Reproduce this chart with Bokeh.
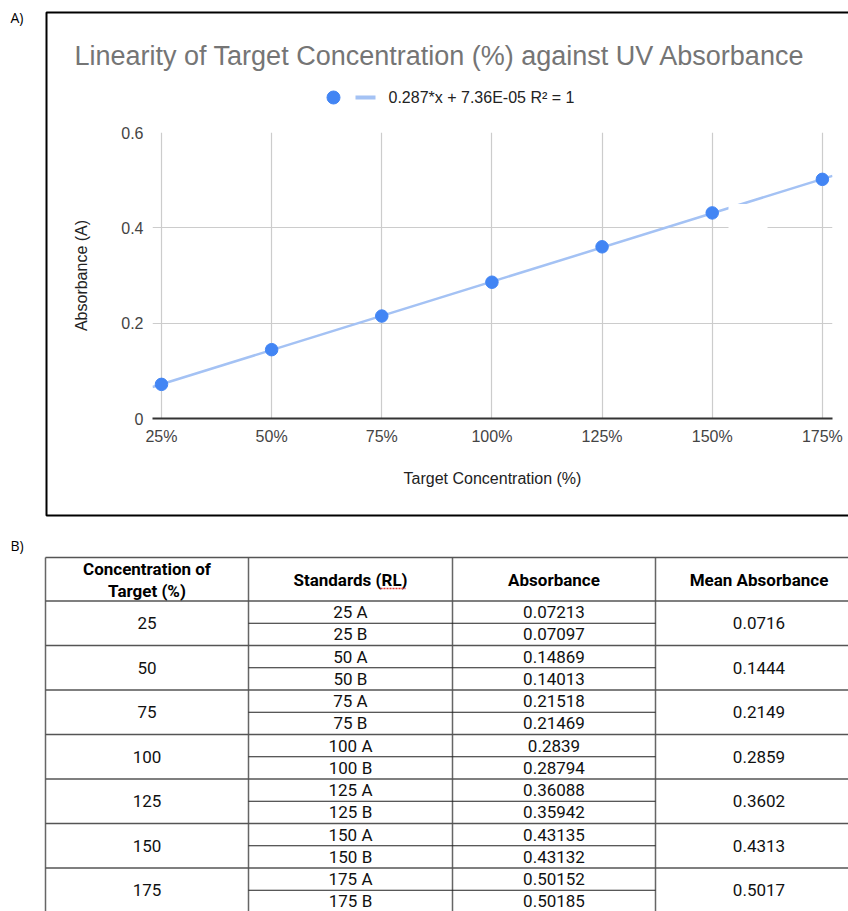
from bokeh.plotting import figure
from bokeh.models import (Range1d, FixedTicker, PrintfTickFormatter, NumeralTickFormatter,
                          BoxAnnotation, ColumnDataSource, GridBox)
from bokeh.embed import file_html
from bokeh.resources import INLINE
from bokeh.core.properties import value

# ---------------- data ----------------
concentration = [25, 50, 75, 100, 125, 150, 175]
y_ticks = [0, 0.2, 0.4, 0.6]
mean_absorbance = [0.0716, 0.1444, 0.2149, 0.2859, 0.3602, 0.4313, 0.5017]
standards = ["25 A", "25 B", "50 A", "50 B", "75 A", "75 B", "100 A", "100 B",
             "125 A", "125 B", "150 A", "150 B", "175 A", "175 B"]
absorbance = [0.07213, 0.07097, 0.14869, 0.14013, 0.21518, 0.21469, 0.2839, 0.28794,
              0.36088, 0.35942, 0.43135, 0.43132, 0.50152, 0.50185]
trend_slope = 0.287
trend_intercept = 7.36e-05
trend_label = "0.287*x + 7.36E-05 R\u00b2 = 1"
title_text = "Linearity of Target Concentration (%) against UV Absorbance"
x_title = "Target Concentration (%)"
y_title = "Absorbance (A)"
header_col1 = ["Concentration of", "Target (%)"]
header_others = ["Standards (RL)", "Absorbance", "Mean Absorbance"]
panel_labels = ["A)", "B)"]

CHART_FONT = "Liberation Sans"
TABLE_FONT = "Roboto"
PAGE_W, PAGE_H = 848, 911

# ---------------- background page: panel frames, titles, legend, table ----------------
bg = figure(width=PAGE_W, height=PAGE_H, output_backend="svg", toolbar_location=None,
            x_range=Range1d(0, PAGE_W), y_range=Range1d(PAGE_H, 0),
            x_axis_location=None, y_axis_location=None, min_border=0, frame_align=False)
bg.outline_line_color = None
bg.grid.visible = False
bg.background_fill_color = "white"
bg.border_fill_color = "white"

# panel labels
bg.text(x=[10, 10], y=[17, 545], text=panel_labels, text_font=value("Open Sans"),
        text_font_size="14px", text_color="#000000", text_align="left", text_baseline="middle")
# chart box
bg.quad(left=[46], right=[880], top=[12], bottom=[515], fill_alpha=0,
        line_color="black", line_width=2)
# chart title
bg.text(x=[74], y=[55], text=[title_text], text_font=value(CHART_FONT), text_font_size="27px",
        text_color="#757575", text_align="left", text_baseline="middle")
# legend
bg.scatter(x=[333], y=[97], size=13, fill_color="#4285f4", line_color="#4285f4")
bg.line(x=[355, 375], y=[97, 97], line_color="#a4c2f4", line_width=4)
bg.text(x=[388], y=[97], text=[trend_label], text_font=value(CHART_FONT), text_font_size="16px",
        text_color="#222222", text_align="left", text_baseline="middle")

# table
cols = [45, 248, 452, 655, 862]
tbl_top = 557
head_bot = 600.5
grp_h = 44.5
n_grp = len(concentration)
bottom_end = head_bot + n_grp * grp_h + 10

bg.segment(x0=cols, y0=[tbl_top] * len(cols), x1=cols, y1=[bottom_end] * len(cols),
           line_color="#666666", line_width=1.5)
gy = [tbl_top] + [head_bot + k * grp_h for k in range(n_grp + 1)]
bg.segment(x0=[cols[0]] * len(gy), y0=gy, x1=[cols[-1]] * len(gy), y1=gy,
           line_color="#555555", line_width=1.6)
sy = [head_bot + k * grp_h + grp_h / 2 for k in range(n_grp)]
bg.segment(x0=[cols[1]] * len(sy), y0=sy, x1=[cols[3]] * len(sy), y1=sy,
           line_color="#222222", line_width=1)

cx = [(cols[i] + cols[i + 1]) / 2 for i in range(4)]
hdr = ColumnDataSource(dict(
    x=[cx[0], cx[0], cx[1], cx[2], cx[3]],
    y=[568, 590, 579, 579, 579],
    t=header_col1 + header_others))
bg.text(x="x", y="y", text="t", source=hdr, text_font=value(TABLE_FONT),
        text_font_size="17px", text_font_style="bold", text_color="#000000",
        text_align="center", text_baseline="middle")
bg.line([cx[1] + 30, cx[1] + 55], [588, 588], line_color="#e53935", line_width=1.5, line_dash="2 1")

grp = ColumnDataSource(dict(
    x1=[cx[0]] * n_grp, x4=[cx[3]] * n_grp,
    y=[head_bot + (k + 0.5) * grp_h for k in range(n_grp)],
    c=[str(c) for c in concentration],
    m=[str(m) for m in mean_absorbance]))
for xcol, tcol in (("x1", "c"), ("x4", "m")):
    bg.text(x=xcol, y="y", text=tcol, source=grp, text_font=value(TABLE_FONT), text_font_size="17px",
            text_color="#111111", text_align="center", text_baseline="middle")
sub = ColumnDataSource(dict(
    x2=[cx[1]] * len(standards), x3=[cx[2]] * len(standards),
    y=[head_bot + (i // 2) * grp_h + (i % 2 + 0.5) * grp_h / 2 for i in range(len(standards))],
    s=standards, a=[str(a) for a in absorbance]))
for xcol, tcol in (("x2", "s"), ("x3", "a")):
    bg.text(x=xcol, y="y", text=tcol, source=sub, text_font=value(TABLE_FONT), text_font_size="17px",
            text_color="#111111", text_align="center", text_baseline="middle")

# ---------------- chart (transparent overlay) ----------------
HA = 520
pa = figure(width=PAGE_W, height=HA, output_backend="svg", toolbar_location=None,
            x_range=Range1d(22.96, 177.3), y_range=Range1d(0, 0.6), frame_align=False,
            min_border_left=152, min_border_right=16, min_border_top=132, min_border_bottom=HA - 418)
pa.outline_line_color = None
pa.background_fill_color = None
pa.border_fill_color = None
pa.title.visible = False

ln = pa.line([pa.x_range.start, pa.x_range.end],
             [trend_slope * pa.x_range.start / 100 + trend_intercept,
              trend_slope * pa.x_range.end / 100 + trend_intercept],
             line_color="#a4c2f4", line_width=2.5)
sc = pa.scatter(concentration, mean_absorbance, size=12.5, fill_color="#4285f4",
                line_color="#4285f4")

xa = pa.xaxis[0]
xa.ticker = FixedTicker(ticks=concentration)
xa.formatter = PrintfTickFormatter(format="%d%%")
xa.axis_label = x_title
ya = pa.yaxis[0]
ya.ticker = FixedTicker(ticks=y_ticks)
ya.formatter = NumeralTickFormatter(format="0.[0]")
ya.axis_label = y_title
for ax in (xa, ya):
    ax.major_tick_line_color = None
    ax.minor_tick_line_color = None
    ax.major_tick_out = 0
    ax.major_tick_in = 0
    ax.minor_tick_out = 0
    ax.major_label_text_font = CHART_FONT
    ax.major_label_text_font_size = "16px"
    ax.major_label_text_color = "#444444"
    ax.axis_label_text_font = CHART_FONT
    ax.axis_label_text_font_size = "16px"
    ax.axis_label_text_font_style = "normal"
    ax.axis_label_text_color = "#222222"
xa.axis_line_color = "#333333"
xa.axis_line_width = 2
xa.major_label_standoff = 9
xa.axis_label_standoff = 22
ya.axis_line_color = None
ya.major_label_standoff = 9
ya.axis_label_standoff = 28

pa.xgrid.ticker = FixedTicker(ticks=concentration)
pa.ygrid.ticker = FixedTicker(ticks=y_ticks)
pa.grid.grid_line_color = "#cccccc"
pa.grid.grid_line_width = 1.2

# small white blemish over the trend line / gridline seen in the reference
pa.add_layout(BoxAnnotation(left=728 - 152, right=767 - 152, top=418 - 203.5, bottom=418 - 232,
                            left_units="screen", right_units="screen",
                            top_units="screen", bottom_units="screen",
                            fill_color="white", fill_alpha=1, line_color=None))

layout = GridBox(children=[(bg, 0, 0), (pa, 0, 0)], spacing=0)
open("out.html", "w").write(file_html(layout, INLINE))
